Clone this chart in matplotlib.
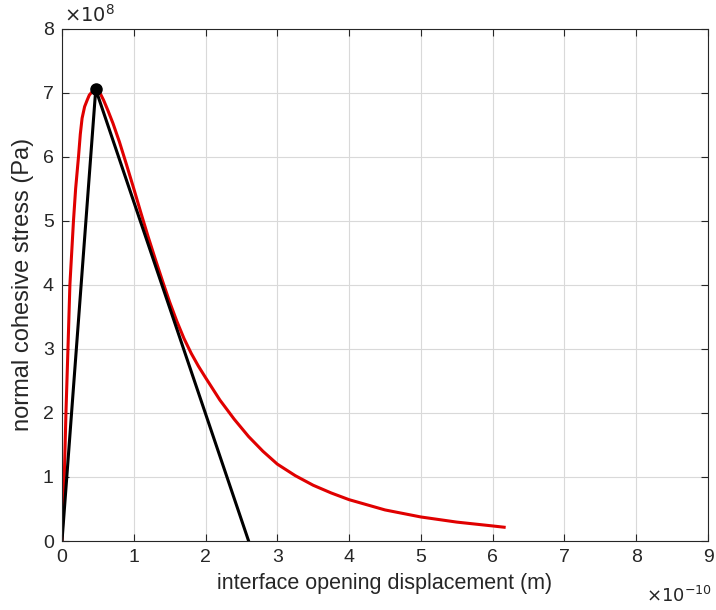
import matplotlib
matplotlib.use("Agg")
import matplotlib.pyplot as plt

# displacement in 1e-10 m, stress in 1e8 Pa
red_x = [0.0, 0.032, 0.055, 0.083, 0.11, 0.16, 0.19, 0.23, 0.255, 0.28,
         0.315, 0.35, 0.38, 0.41, 0.44, 0.47, 0.5, 0.54, 0.58, 0.64, 0.71,
         0.8, 0.9, 1.0, 1.1, 1.2, 1.3, 1.4, 1.5, 1.6, 1.7, 1.8, 1.9, 2.0,
         2.2, 2.4, 2.6, 2.8, 3.0, 3.25, 3.5, 3.75, 4.0, 4.5, 5.0, 5.5, 6.0, 6.16]
red_y = [0.0, 1.0, 2.0, 3.0, 4.0, 5.0, 5.5, 6.0, 6.35, 6.6,
         6.78, 6.88, 6.96, 7.0, 7.03, 7.05, 7.03, 6.97, 6.88, 6.72, 6.52,
         6.23, 5.87, 5.5, 5.12, 4.75, 4.4, 4.06, 3.73, 3.43, 3.16, 2.93, 2.73, 2.55,
         2.2, 1.9, 1.63, 1.4, 1.2, 1.02, 0.87, 0.75, 0.645, 0.485, 0.375, 0.295, 0.235, 0.215]

tri_x = [0.0, 0.47, 2.6]
tri_y = [0.0, 7.05, 0.0]

peak_x = [0.47]
peak_y = [7.05]

plt.rcParams['font.family'] = ['Liberation Sans', 'DejaVu Sans']
dark = (0.15, 0.15, 0.15)

fig = plt.figure(figsize=(7.16, 6.10), dpi=100)
ax = fig.add_axes([62/716, 1-541/610, 646/716, (541-28.5)/610])

ax.plot(red_x, red_y, color=(0.88, 0.0, 0.0), lw=2.2, solid_joinstyle='round')
ax.plot(tri_x, tri_y, color='black', lw=2.2)
ax.plot(peak_x, peak_y, 'o', color='black', markersize=8)

ax.set_xlim(0, 9)
ax.set_ylim(0, 8)
ax.set_xticks(range(0, 10))
ax.set_yticks(range(0, 9))
ax.grid(True, color=(0.85, 0.85, 0.85), lw=0.8)
ax.set_axisbelow(True)
ax.tick_params(direction='in', top=True, right=True, length=5, width=0.8,
               colors=dark, labelsize=14, pad=6)
for s in ax.spines.values():
    s.set_color(dark)
    s.set_linewidth(0.8)

ax.set_xlabel('interface opening displacement (m)', fontsize=15.5, color=dark, labelpad=5)
ax.set_ylabel('normal cohesive stress (Pa)', fontsize=17, color=dark, labelpad=6)

fig.text(64/716, 1-15/610, r'$\times10^{8}$', fontsize=14, color=dark, va='center', ha='left')
fig.text(646/716, 1-596/610, r'$\times10^{-10}$', fontsize=13, color=dark, va='center', ha='left')

fig.savefig('out.png', dpi=100)
